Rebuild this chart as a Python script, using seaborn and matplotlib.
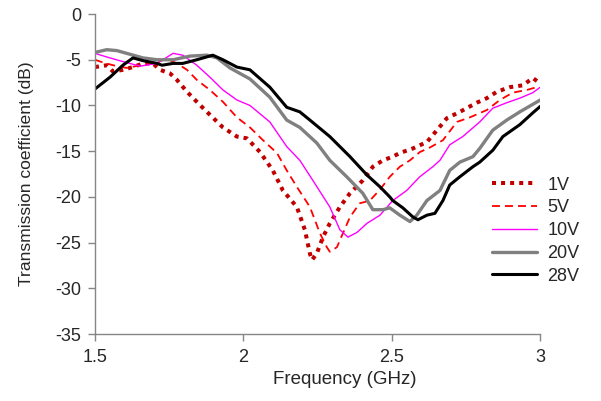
import matplotlib
matplotlib.use("Agg")
import matplotlib.pyplot as plt
import seaborn as sns
import pandas as pd

# ---- data ----
f_1v = [1.500, 1.540, 1.561, 1.594, 1.628, 1.662, 1.695, 1.719, 1.753, 1.776, 1.810, 1.843, 1.877, 1.931,
        1.978, 2.012, 2.056, 2.099, 2.133, 2.180, 2.207, 2.224, 2.231, 2.247, 2.268, 2.291, 2.325, 2.359,
        2.402, 2.436, 2.470, 2.503, 2.527, 2.571, 2.618, 2.652, 2.685, 2.729, 2.786, 2.820, 2.854, 2.897,
        2.941, 2.975, 3.000]
db_1v = [-5.8, -5.6, -6.3, -6.1, -5.8, -5.4, -5.4, -6.1, -6.5, -7.2, -8.5, -9.6, -10.7, -12.4,
         -13.4, -13.6, -15.1, -17.1, -19.3, -21.1, -23.6, -26.2, -26.9, -26.2, -24.4, -22.9, -21.1, -19.6,
         -18.2, -16.7, -16.0, -15.6, -15.2, -14.7, -14.0, -12.7, -11.4, -10.7, -9.7, -9.2, -8.5, -8.0,
         -7.8, -7.0, -7.6]

f_5v = [1.500, 1.527, 1.561, 1.608, 1.652, 1.695, 1.742, 1.776, 1.810, 1.843, 1.887, 1.931, 1.978, 2.022,
        2.066, 2.113, 2.146, 2.180, 2.224, 2.258, 2.281, 2.291, 2.315, 2.335, 2.359, 2.392, 2.426, 2.460,
        2.493, 2.527, 2.561, 2.594, 2.628, 2.672, 2.719, 2.763, 2.820, 2.864, 2.907, 2.955, 2.988]
db_5v = [-5.0, -5.3, -5.6, -5.9, -5.6, -5.4, -4.9, -5.4, -6.1, -7.2, -8.3, -9.6, -11.3, -12.4,
         -13.8, -15.2, -17.1, -18.9, -21.1, -24.0, -25.5, -26.0, -25.5, -24.0, -22.2, -20.7, -20.4, -19.2,
         -17.8, -16.7, -16.0, -15.1, -14.6, -13.8, -11.8, -11.3, -10.5, -9.4, -8.6, -8.3, -8.0]

f_10v = [1.500, 1.540, 1.594, 1.652, 1.709, 1.763, 1.796, 1.843, 1.887, 1.931, 1.978, 2.022, 2.089, 2.146,
         2.190, 2.234, 2.291, 2.325, 2.352, 2.382, 2.416, 2.460, 2.503, 2.550, 2.594, 2.638, 2.662, 2.695,
         2.739, 2.796, 2.840, 2.887, 2.931, 2.975, 3.000]
db_10v = [-4.3, -4.7, -5.2, -5.7, -5.4, -4.3, -4.5, -5.6, -6.9, -8.3, -9.4, -10.0, -11.8, -14.5,
          -16.0, -18.2, -21.1, -23.6, -24.4, -23.9, -22.9, -22.0, -20.4, -19.3, -17.8, -16.7, -16.0, -14.3,
          -13.4, -11.8, -10.3, -9.7, -9.2, -8.6, -8.0]

f_20v = [1.500, 1.540, 1.574, 1.618, 1.662, 1.709, 1.763, 1.820, 1.877, 1.911, 1.955, 2.022, 2.089, 2.146,
         2.190, 2.247, 2.291, 2.348, 2.402, 2.436, 2.470, 2.493, 2.527, 2.561, 2.584, 2.618, 2.662, 2.695,
         2.729, 2.773, 2.796, 2.840, 2.887, 2.931, 3.000]
db_20v = [-4.2, -3.9, -4.0, -4.4, -4.8, -5.0, -5.0, -4.6, -4.5, -4.8, -5.9, -7.1, -9.1, -11.6,
          -12.4, -14.1, -16.0, -17.8, -19.6, -21.4, -21.4, -21.2, -22.0, -22.7, -22.0, -20.4, -19.3, -17.1,
          -16.2, -15.6, -14.7, -12.7, -11.6, -10.7, -9.4]

f_28v = [1.500, 1.551, 1.594, 1.628, 1.662, 1.709, 1.726, 1.763, 1.796, 1.843, 1.897, 1.931, 1.978, 2.022,
         2.089, 2.146, 2.190, 2.224, 2.291, 2.359, 2.416, 2.460, 2.493, 2.503, 2.537, 2.571, 2.588, 2.618,
         2.645, 2.672, 2.695, 2.729, 2.773, 2.796, 2.840, 2.874, 2.931, 2.975, 3.000]
db_28v = [-8.2, -6.9, -5.6, -4.8, -5.1, -5.4, -5.6, -5.4, -5.4, -5.0, -4.5, -5.0, -5.8, -6.1,
          -8.0, -10.2, -10.7, -11.6, -13.4, -15.6, -17.6, -18.9, -20.0, -20.4, -21.2, -22.2, -22.5, -22.0,
          -21.8, -20.4, -18.7, -17.8, -16.7, -16.2, -14.9, -13.4, -12.1, -10.8, -10.1]

labels = ["1V", "5V", "10V", "20V", "28V"]
xticks = [1.5, 2, 2.5, 3]
yticks = [0, -5, -10, -15, -20, -25, -30, -35]

# ---- plot ----
sns.set_style("white")
plt.rcParams["font.family"] = ["Liberation Sans", "DejaVu Sans"]
FS = 13

fig = plt.figure(figsize=(6.01, 4.01), dpi=100)
ax = fig.add_axes([0.158, 0.167, 0.741, 0.798])

series = [
    (f_1v, db_1v, dict(color="#C00000", lw=2.9, dashes=(1.0, 1.25), dash_capstyle="butt")),
    (f_5v, db_5v, dict(color="#FF0000", lw=1.3, dashes=(4.4, 2.8), dash_capstyle="butt")),
    (f_10v, db_10v, dict(color="#FF00FF", lw=1.0)),
    (f_20v, db_20v, dict(color="#808080", lw=2.4)),
    (f_28v, db_28v, dict(color="#000000", lw=2.2)),
]
for (fx, fy, st), lab in zip(series, labels):
    df = pd.DataFrame({"f": fx, "db": fy})
    line_kw = dict(st)
    dashes = line_kw.pop("dashes", None)
    sns.lineplot(data=df, x="f", y="db", ax=ax, label=lab, sort=False, estimator=None, **line_kw)
    ln = ax.get_lines()[-1]
    if dashes is not None:
        ln.set_dashes(dashes)

ax.set_xlim(1.5, 3)
ax.set_ylim(-35, 0)
ax.set_xticks(xticks)
ax.set_xticklabels(["1.5", "2", "2.5", "3"])
ax.set_yticks(yticks)
ax.set_yticklabels([str(v) for v in yticks])
ax.set_xlabel("Frequency (GHz)", fontsize=13.5)
ax.set_ylabel("Transmission coefficient (dB)", fontsize=12.6)
ax.xaxis.set_label_coords(0.56, -0.117)
ax.yaxis.set_label_coords(-0.137, 0.5)
ax.tick_params(axis="both", labelsize=FS, direction="out", length=5, width=1, color="#868686",
               left=True, bottom=True)
ax.tick_params(axis="x", pad=6)
ax.tick_params(axis="y", pad=5)
for s in ["top", "right"]:
    ax.spines[s].set_visible(False)
for s in ["left", "bottom"]:
    ax.spines[s].set_color("#868686")
    ax.spines[s].set_linewidth(1)

ax.get_legend().remove()
handles, labs = ax.get_legend_handles_labels()
fig.legend(handles, labs, loc="upper left", bbox_to_anchor=(0.792, 0.60), frameon=False,
           fontsize=FS, handlelength=2.5, labelspacing=0.32, handletextpad=0.55)

fig.savefig("out.png", dpi=100)
